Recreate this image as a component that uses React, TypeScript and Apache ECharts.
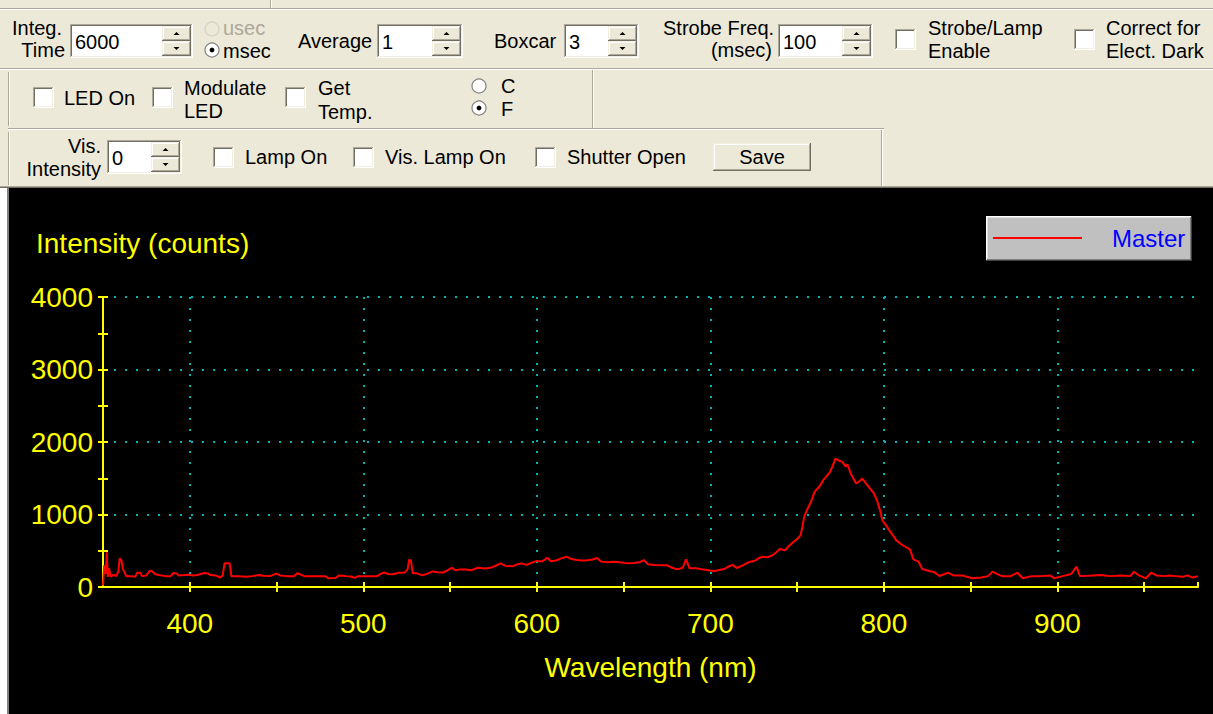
import React, { useEffect, useRef } from 'react';
import * as echarts from 'echarts';

// ---------- DATA ----------
const seriesName = 'Master';
const xAxisTitle = 'Wavelength (nm)';
const yAxisTitle = 'Intensity (counts)';
const xMin = 350;
const xMax = 981;
const yMin = 0;
const yMax = 4000;

// [wavelength nm, intensity counts]
const blueRegion: [number, number][] = [
  [350, 20], [350.7, 300], [351.5, 180], [352.2, 480], [352.8, 140], [353.5, 260], [354.5, 140], [356, 170],
  [357.5, 150], [358.8, 210], [359.6, 395], [360.6, 370], [361.4, 250], [362.5, 200], [363.4, 150], [366, 150],
  [368.5, 140], [369.6, 195], [371.5, 197], [372.4, 150], [375, 160], [377, 225], [378.5, 215], [380, 180],
  [382, 165], [386, 150], [389, 150], [390.5, 193], [392.5, 185], [393.5, 160], [397, 165], [399, 170],
  [402, 160], [404, 165], [406, 175], [408.5, 193], [410.5, 185], [412, 165], [415, 160], [417.5, 130],
  [419, 160], [420, 326], [423, 326], [424, 150], [428, 150], [432, 140], [436, 150], [440, 165],
  [442, 155], [446, 150], [450, 185], [452, 160], [456, 150], [460, 150], [462, 190], [464, 170],
  [466, 150], [472, 150], [478, 150], [480, 120], [484, 125], [486, 160], [488, 155], [490, 150],
  [493, 145], [495, 125], [497, 150], [503, 150], [508, 150], [510, 180], [512, 200], [514, 180],
  [517, 175], [520, 195], [524, 200], [525.5, 245], [526.5, 380], [527.5, 360], [528.5, 190],
];
const midRegion: [number, number][] = [
  [531, 188], [534, 160], [536, 175], [540, 215], [543, 205], [546, 200], [549, 235], [551, 266],
  [553, 230], [556, 243], [559, 240], [562, 230], [566, 266], [570, 255], [574, 270], [577, 300],
  [579, 326], [582, 290], [586, 285], [589, 315], [591, 326], [594, 305], [597, 335], [600, 360],
  [603, 352], [606, 404], [608, 355], [611, 365], [614, 395], [617, 418], [620, 385], [623, 372],
  [626, 365], [629, 370], [632, 380], [634.7, 400], [637, 350], [641, 340], [644, 349], [648, 340],
  [652, 326], [656, 330], [659, 340], [661.6, 372], [664, 315], [668, 303], [672, 300], [675, 300],
  [678, 265], [681, 243], [684, 265], [686, 381], [688, 257], [692, 257], [695, 245], [699, 230],
  [702, 218], [705, 234], [708, 248], [711, 290], [713, 303], [715, 262],
];
const peakRegion: [number, number][] = [
  [718, 290], [721, 330], [723, 349], [726, 365], [728, 400], [730, 418], [733, 410], [736, 440],
  [738, 480], [740, 523], [743, 505], [745, 560], [748, 624], [750, 660], [752, 716], [753, 820],
  [754, 968], [756, 1080], [758, 1174], [760, 1312], [763, 1390], [765, 1473], [767, 1530], [769, 1587],
  [771, 1700], [772, 1771], [774, 1745], [776, 1725], [778, 1660], [779, 1690], [781, 1560], [784, 1427],
  [786, 1460], [787.5, 1496], [790, 1420], [792, 1358], [794, 1300], [796, 1197], [798, 1040], [799, 922],
  [801, 860], [803, 785], [805, 720], [807, 647], [810, 590], [813, 545], [815, 520], [817, 381],
  [819, 360], [820, 349], [822, 250], [824, 234], [826, 220], [829, 205], [832, 151], [835, 180], [837, 197],
];
const nirRegion: [number, number][] = [
  [840, 160], [845, 160], [851, 120], [856, 130], [860, 150], [862.6, 211], [865, 180], [868, 150],
  [873, 150], [877, 197], [880, 120], [885, 150], [890, 150], [896, 160], [898, 120], [903, 150],
  [908, 180], [911, 280], [913, 150], [918, 155], [925, 165], [930, 150], [937, 160], [942, 150],
  [944, 211], [947, 160], [951, 120], [954, 197], [957, 160], [962, 150], [964, 160], [968, 150],
  [972, 140], [975, 160], [978, 130], [981, 150],
];

// Toolbar texts / values
const integTime = '6000';
const averageValue = '1';
const boxcarValue = '3';
const strobeValue = '100';
const visIntensityValue = '0';

// ---------- STYLE ----------
const FONT = '"Liberation Sans", Arial, Helvetica, sans-serif';
const UI = 20;
const BEIGE = '#ECE9D8';
const YELLOW = '#FFFF00';
const GRIDC = '#00B4B4';
const RED = '#FF0000';

const txt = (s: string, x: number, y: number, o: any = {}) => ({
  type: 'text', x, y, silent: true,
  style: {
    text: s, fill: o.fill ?? '#000000', fontSize: o.size ?? UI, fontFamily: FONT,
    align: o.align ?? 'left', textAlign: o.align ?? 'left',
    verticalAlign: 'middle', textVerticalAlign: 'middle',
  },
});
const rect = (x: number, y: number, w: number, h: number, fill: string) => ({
  type: 'rect', silent: true, shape: { x, y, width: w, height: h }, style: { fill },
});
const ln = (x1: number, y1: number, x2: number, y2: number, stroke: string, lw = 1) => ({
  type: 'line', silent: true, shape: { x1, y1, x2, y2 }, style: { stroke, lineWidth: lw },
});

function sunken(x: number, y: number, w: number, h: number) {
  return [
    rect(x, y, w, h, '#FFFFFF'),
    ln(x, y + 0.5, x + w - 1, y + 0.5, '#ACA899'), ln(x + 0.5, y, x + 0.5, y + h - 1, '#ACA899'),
    ln(x + 1, y + 1.5, x + w - 2, y + 1.5, '#716F64'), ln(x + 1.5, y + 1, x + 1.5, y + h - 2, '#716F64'),
    ln(x, y + h - 0.5, x + w, y + h - 0.5, '#FFFFFF'), ln(x + w - 0.5, y, x + w - 0.5, y + h, '#FFFFFF'),
    ln(x + 1, y + h - 1.5, x + w - 1, y + h - 1.5, '#F1EFE2'), ln(x + w - 1.5, y + 1, x + w - 1.5, y + h - 1, '#F1EFE2'),
  ];
}
function raised(x: number, y: number, w: number, h: number) {
  return [
    rect(x, y, w, h, BEIGE),
    ln(x, y + 0.5, x + w - 1, y + 0.5, '#F1EFE2'), ln(x + 0.5, y, x + 0.5, y + h - 1, '#F1EFE2'),
    ln(x + 1, y + 1.5, x + w - 2, y + 1.5, '#FFFFFF'), ln(x + 1.5, y + 1, x + 1.5, y + h - 2, '#FFFFFF'),
    ln(x, y + h - 0.5, x + w, y + h - 0.5, '#716F64'), ln(x + w - 0.5, y, x + w - 0.5, y + h, '#716F64'),
    ln(x + 1, y + h - 1.5, x + w - 1, y + h - 1.5, '#ACA899'), ln(x + w - 1.5, y + 1, x + w - 1.5, y + h - 1, '#ACA899'),
  ];
}
function spinner(x: number, y: number, w: number, h: number) {
  const h1 = Math.floor(h / 2);
  const cx = x + w / 2;
  const uy = y + h1 / 2;
  const dy = y + h1 + (h - h1) / 2;
  return [
    ...raised(x, y, w, h1), ...raised(x, y + h1, w, h - h1),
    { type: 'polygon', silent: true, shape: { points: [[cx - 3, uy + 1.5], [cx + 3, uy + 1.5], [cx, uy - 1.5]] }, style: { fill: '#000' } },
    { type: 'polygon', silent: true, shape: { points: [[cx - 3, dy - 1.5], [cx + 3, dy - 1.5], [cx, dy + 1.5]] }, style: { fill: '#000' } },
  ];
}
function spinInput(x: number, y: number, w: number, h: number, value: string, spinW = 29) {
  return [...sunken(x, y, w, h), txt(value, x + 5, y + h / 2 + 1), ...spinner(x + w - 2 - spinW, y + 2, spinW, h - 4)];
}
const checkbox = (x: number, y: number, s = 21) => sunken(x, y, s, s);
function radio(cx: number, cy: number, checked: boolean, disabled = false) {
  const out: any[] = [
    { type: 'circle', silent: true, shape: { cx, cy, r: 7 }, style: { fill: disabled ? BEIGE : '#FFFFFF', stroke: disabled ? '#D4D0C8' : '#808080', lineWidth: 1.2 } },
  ];
  if (checked) out.push({ type: 'circle', silent: true, shape: { cx, cy, r: 2.4 }, style: { fill: '#000000' } });
  return out;
}
function grooveH(x1: number, x2: number, y: number) {
  return [ln(x1, y + 0.5, x2, y + 0.5, '#ACA899'), ln(x1, y + 1.5, x2, y + 1.5, '#FFFFFF')];
}
function grooveV(x: number, y1: number, y2: number) {
  return [ln(x + 0.5, y1, x + 0.5, y2, '#ACA899'), ln(x + 1.5, y1, x + 1.5, y2, '#FFFFFF')];
}

function buildToolbar() {
  const e: any[] = [];
  e.push(rect(0, 0, 1213, 188, BEIGE));
  e.push(...grooveH(0, 1213, 8));
  e.push(...grooveV(270, 0, 8));
  // Row 1
  e.push(txt('Integ.', 12, 28), txt('Time', 65, 50, { align: 'right' }));
  e.push(...spinInput(70, 24, 123, 34, integTime));
  e.push(...radio(212, 29, false, true), txt('usec', 223, 28, { fill: '#ACA899' }));
  e.push(...radio(212, 50, true), txt('msec', 223, 51));
  e.push(txt('Average', 298, 41), ...spinInput(377, 24, 86, 34, averageValue));
  e.push(txt('Boxcar', 494, 41), ...spinInput(564, 24, 75, 34, boxcarValue));
  e.push(txt('Strobe Freq.', 663, 28), txt('(msec)', 772, 50, { align: 'right' }));
  e.push(...spinInput(778, 24, 95, 34, strobeValue));
  e.push(...checkbox(895, 29), txt('Strobe/Lamp', 928, 28), txt('Enable', 928, 51));
  e.push(...checkbox(1074, 29), txt('Correct for', 1106, 28), txt('Elect. Dark', 1106, 51));
  e.push(...grooveH(0, 1213, 68));
  // Row 2
  e.push(...grooveV(8, 72, 126));
  e.push(...checkbox(33, 87), txt('LED On', 64, 98));
  e.push(...checkbox(152, 87), txt('Modulate', 184, 88), txt('LED', 184, 111));
  e.push(...checkbox(285, 87), txt('Get', 318, 88), txt('Temp.', 318, 112));
  e.push(...radio(479, 86, false), txt('C', 501, 86));
  e.push(...radio(479, 108, true), txt('F', 501, 109));
  e.push(...grooveV(592, 70, 128));
  e.push(...grooveH(8, 884, 128));
  // Row 3
  e.push(...grooveV(8, 132, 185));
  e.push(txt('Vis.', 101, 146, { align: 'right' }), txt('Intensity', 101, 169, { align: 'right' }));
  e.push(...spinInput(107, 140, 75, 34, visIntensityValue));
  e.push(...checkbox(213, 147), txt('Lamp On', 245, 157));
  e.push(...checkbox(353, 147), txt('Vis. Lamp On', 385, 157));
  e.push(...checkbox(535, 147), txt('Shutter Open', 567, 157));
  e.push(...raised(713, 143, 98, 28), txt('Save', 762, 157, { align: 'center' }));
  e.push(...grooveV(881, 130, 188));
  e.push(ln(0, 186.5, 1213, 186.5, '#ACA899'), ln(0, 187.5, 1213, 187.5, '#716F64'));
  // left white strip next to the plot window
  e.push(rect(0, 188, 7, 526, '#FFFFFF'), rect(7, 188, 2, 526, '#808080'));
  // legend box (3D)
  e.push(rect(986, 216, 206, 45, '#C0C0C0'));
  e.push(ln(986, 216.5, 1192, 216.5, '#FFFFFF', 1), ln(986.5, 216, 986.5, 261, '#FFFFFF', 1));
  e.push(ln(987, 217.5, 1190, 217.5, '#DFDFDF', 1), ln(987.5, 217, 987.5, 260, '#DFDFDF', 1));
  e.push(ln(986, 260.5, 1192, 260.5, '#404040', 1), ln(1191.5, 216, 1191.5, 261, '#404040', 1));
  e.push(ln(987, 259.5, 1191, 259.5, '#808080', 1), ln(1190.5, 217, 1190.5, 260, '#808080', 1));
  // Y axis title
  e.push(txt(yAxisTitle, 36, 243, { fill: YELLOW, size: 28 }));
  return e;
}

const axisLineStyle = { color: YELLOW, width: 2 };
const dotted = { color: GRIDC, width: 2, type: [2, 9] as any };

function buildOption(): any {
  const data = [...blueRegion, ...midRegion, ...peakRegion, ...nirRegion];
  const grid = { left: 103, right: 15, top: 297, bottom: 127, containLabel: false };
  return {
    animation: false,
    backgroundColor: '#000000',
    textStyle: { fontFamily: FONT },
    grid,
    graphic: { elements: buildToolbar() },
    legend: {
      data: [seriesName], left: 993, top: 226, padding: 0, icon: 'rect',
      itemWidth: 89, itemHeight: 2, selectedMode: false,
      textStyle: { color: '#0000FF', fontSize: 24, fontFamily: FONT, padding: [0, 0, 0, 25] },
    },
    xAxis: [
      {
        type: 'value', min: xMin, max: xMax, interval: 50, position: 'bottom',
        axisLine: { show: true, onZero: false, lineStyle: axisLineStyle },
        axisTick: { show: true, length: 5, lineStyle: axisLineStyle },
        axisLabel: {
          color: YELLOW, fontSize: 28, fontFamily: FONT, margin: 22,
          showMinLabel: false, showMaxLabel: false,
          formatter: (v: number) => (v % 100 === 0 ? String(v) : ''),
        },
        splitLine: { show: false },
        name: xAxisTitle, nameLocation: 'middle', nameGap: 66,
        nameTextStyle: { color: YELLOW, fontSize: 28, fontFamily: FONT },
      },
      {
        type: 'value', min: xMin, max: xMax, interval: 50, position: 'bottom',
        axisLine: { show: false, onZero: false }, axisTick: { show: true, inside: true, length: 5, lineStyle: axisLineStyle },
        axisLabel: { show: false }, splitLine: { show: false },
      },
      {
        type: 'value', min: xMin, max: xMax, position: 'top',
        axisLine: { show: false, onZero: false }, axisTick: { show: false }, axisLabel: { show: false },
        splitLine: { show: true, showMinLine: false, showMaxLine: false, lineStyle: dotted },
      },
    ],
    yAxis: [
      {
        type: 'value', min: yMin, max: yMax, interval: 500, position: 'left',
        axisLine: { show: true, onZero: false, lineStyle: axisLineStyle },
        axisTick: { show: true, length: 5, lineStyle: axisLineStyle },
        axisLabel: {
          color: YELLOW, fontSize: 28, fontFamily: FONT, margin: 10,
          formatter: (v: number) => (v % 1000 === 0 ? String(v) : ''),
        },
        splitLine: { show: false },
      },
      {
        type: 'value', min: yMin, max: yMax, interval: 500, position: 'left',
        axisLine: { show: false, onZero: false }, axisTick: { show: true, inside: true, length: 5, lineStyle: axisLineStyle },
        axisLabel: { show: false }, splitLine: { show: false },
      },
      {
        type: 'value', min: yMin, max: yMax, interval: 1000, position: 'right',
        axisLine: { show: false, onZero: false }, axisTick: { show: false }, axisLabel: { show: false },
        splitLine: { show: true, showMinLine: false, lineStyle: dotted },
      },
    ],
    series: [
      {
        type: 'line', name: seriesName, data, xAxisIndex: 0, yAxisIndex: 0,
        symbol: 'none', showSymbol: false, color: RED,
        lineStyle: { color: RED, width: 2 }, itemStyle: { color: RED }, z: 5,
      },
    ],
  };
}

export default function App() {
  const ref = useRef<HTMLDivElement>(null);
  useEffect(() => {
    document.body.style.margin = '0';
    const chart = echarts.init(ref.current!, null, { renderer: 'svg' });
    chart.setOption(buildOption());
    return () => chart.dispose();
  }, []);
  return <div ref={ref} style={{ position: 'fixed', left: 0, top: 0, width: 1213, height: 714 }} />;
}
